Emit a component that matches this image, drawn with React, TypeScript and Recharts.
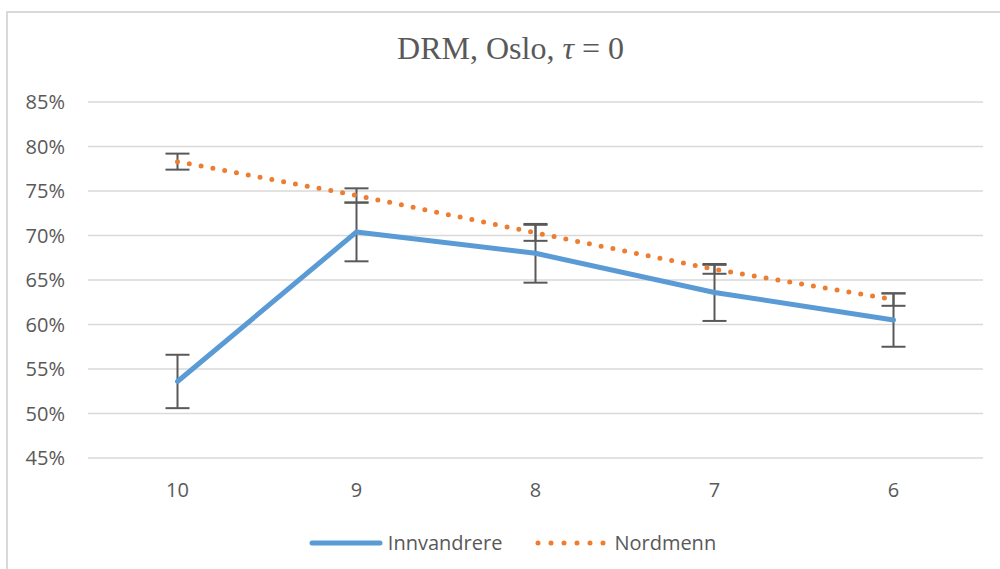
import React from 'react';
import { LineChart, Line, XAxis, YAxis, CartesianGrid, Legend, ErrorBar } from 'recharts';

const categories = ['10', '9', '8', '7', '6'];
const innvandrere = [0.536, 0.704, 0.68, 0.636, 0.605];
const innvandrereErr = [0.03, 0.033, 0.033, 0.032, 0.03];
const nordmenn = [0.783, 0.745, 0.703, 0.662, 0.628];
const nordmennErr = [0.009, 0.008, 0.009, 0.005, 0.007];
const yTicks = [0.45, 0.5, 0.55, 0.6, 0.65, 0.7, 0.75, 0.8, 0.85];

const data = categories.map((c, i) => ({
  cat: c,
  inn: innvandrere[i],
  innErr: innvandrereErr[i],
  nord: nordmenn[i],
  nordErr: nordmennErr[i],
}));

const TEXT = '#595959';
const BLUE = '#5b9bd5';
const ORANGE = '#ed7d31';
const FONT = '"Open Sans", sans-serif';

function LegendContent() {
  return (
    <div style={{ display: 'flex', justifyContent: 'center', alignItems: 'center', fontFamily: FONT, fontSize: 20, color: TEXT }}>
      <svg width={76} height={12}>
        <line x1={4} y1={6} x2={72} y2={6} stroke={BLUE} strokeWidth={5} strokeLinecap="round" />
      </svg>
      <span style={{ marginLeft: 4 }}>Innvandrere</span>
      <svg width={72} height={12} style={{ marginLeft: 32 }}>
        <line x1={4} y1={6} x2={70} y2={6} stroke={ORANGE} strokeWidth={5} strokeLinecap="round" strokeDasharray="0 13" />
      </svg>
      <span style={{ marginLeft: 8 }}>Nordmenn</span>
    </div>
  );
}

export default function App() {
  return (
    <div style={{ position: 'absolute', left: 0, top: 0, width: 1000, height: 569, overflow: 'hidden', background: '#fff' }}>
      <div style={{ position: 'absolute', left: 6, top: 11, width: 1100, height: 700, border: '2px solid #d9d9d9' }} />
      <div
        style={{
          position: 'absolute',
          left: 0,
          top: 30,
          width: 1021,
          textAlign: 'center',
          fontFamily: '"Liberation Serif", "Times New Roman", serif',
          fontSize: 32,
          color: TEXT,
          whiteSpace: 'pre',
        }}
      >
        DRM, Oslo, <i>τ</i> = 0
      </div>
      <div style={{ position: 'absolute', left: 0, top: 0 }}>
        <LineChart width={1000} height={569} data={data} margin={{ top: 102, right: 17, bottom: 81, left: 0 }}>
          <CartesianGrid vertical={false} stroke="#d9d9d9" strokeWidth={1.3} />
          <XAxis
            dataKey="cat"
            axisLine={false}
            tickLine={false}
            height={30}
            tickMargin={19}
            padding={{ left: 89.5, right: 89.5 }}
            tick={{ fill: TEXT, fontSize: 20, fontFamily: FONT }}
          />
          <YAxis
            domain={[0.45, 0.85]}
            ticks={yTicks}
            width={88}
            axisLine={false}
            tickLine={false}
            tickMargin={17}
            tickFormatter={(v: number) => `${Math.round(v * 100)}%`}
            tick={{ fill: TEXT, fontSize: 20, fontFamily: FONT }}
          />
          <Line
            type="linear"
            dataKey="inn"
            name="Innvandrere"
            stroke={BLUE}
            strokeWidth={5}
            strokeLinecap="round"
            strokeLinejoin="round"
            dot={false}
            isAnimationActive={false}
          >
            <ErrorBar dataKey="innErr" direction="y" width={12} stroke={TEXT} strokeWidth={2} />
          </Line>
          <Line
            type="linear"
            dataKey="nord"
            name="Nordmenn"
            stroke={ORANGE}
            strokeWidth={5}
            strokeLinecap="round"
            strokeDasharray="0 12"
            dot={false}
            isAnimationActive={false}
          >
            <ErrorBar dataKey="nordErr" direction="y" width={12} stroke={TEXT} strokeWidth={2} />
          </Line>
          <Legend
            verticalAlign="middle"
            align="center"
            layout="horizontal"
            content={<LegendContent />}
            wrapperStyle={{ top: 529, left: 12, width: 1000 }}
          />
        </LineChart>
      </div>
    </div>
  );
}
